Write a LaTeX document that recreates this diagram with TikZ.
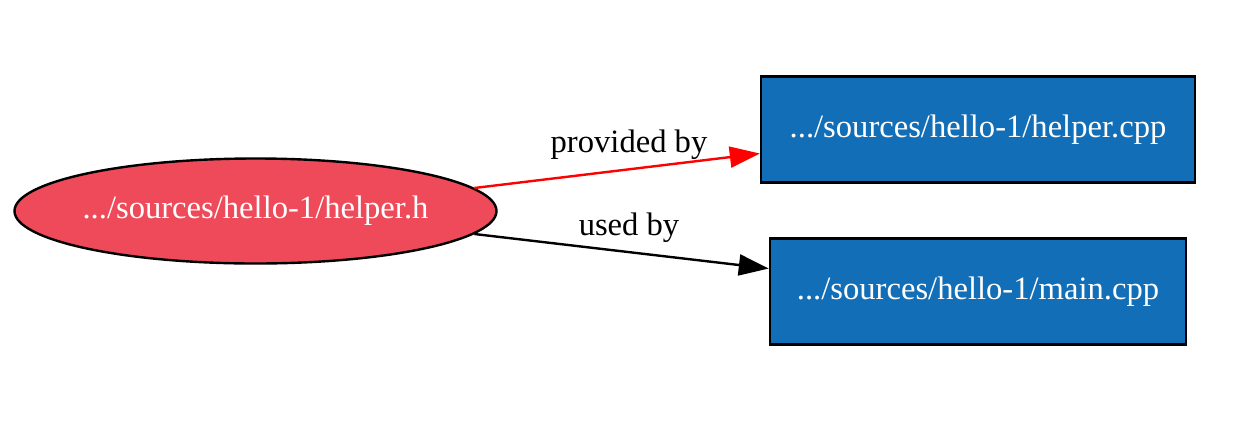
\documentclass[tikz,border=0pt]{standalone}
\usepackage{fontspec}
\setmainfont{Liberation Serif}
\usetikzlibrary{arrows.meta,shapes.geometric}
\definecolor{hdrred}{HTML}{EF4A5A}
\definecolor{srcblue}{HTML}{126EB7}
\begin{document}
\begin{tikzpicture}[x=1pt,y=-1pt,
  every node/.style={font=\fontsize{32.6}{36}\selectfont},
  hdr/.style={ellipse,draw=black,line width=2.4pt,fill=hdrred,text=white,minimum width=482pt,minimum height=105pt,inner xsep=-40pt,inner ysep=0pt},
  src/.style={rectangle,draw=black,line width=2.4pt,fill=srcblue,text=white,minimum height=106pt,inner sep=0pt},
  edge/.style={line width=2.4pt,-{Triangle[length=30pt,width=21pt]}},
  lbl/.style={text=black,inner sep=0pt}]
\useasboundingbox (0,0) rectangle (1238,437);
\node[hdr] (h) at (255.5,211) {.../sources/hello-1/helper.h};
\node[src,minimum width=434pt] (c1) at (978,129.5) {.../sources/hello-1/helper.cpp};
\node[src,minimum width=416pt] (c2) at (978,291.5) {.../sources/hello-1/main.cpp};
\draw[edge,red] (h.6.7) -- ([yshift=-24pt]c1.west);
\draw[edge,black] (h.-6.2) -- ([yshift=23pt]c2.west);
\node[lbl] (l1) at (629,145) {provided by};
\node[lbl] (l2) at (629,228) {used by};
\end{tikzpicture}
\end{document}
